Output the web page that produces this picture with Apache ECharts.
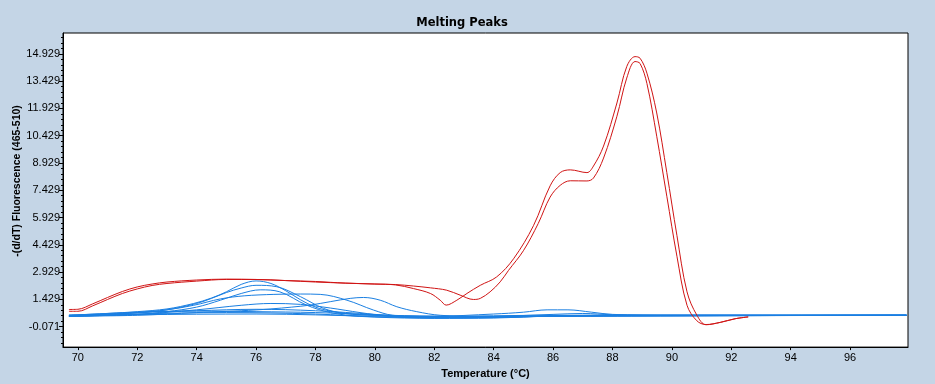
<!DOCTYPE html>
<html>
<head>
<meta charset="utf-8">
<script src="https://cdn.jsdelivr.net/npm/echarts@6/dist/echarts.min.js"></script>
<style>
html,body{margin:0;padding:0;background:#C4D5E6;}
#chart{width:935px;height:384px;}
</style>
</head>
<body>
<div id="chart"></div>
<script>
// ---- data (temperature °C, -(d/dT) fluorescence) ----
const xTicks = [70,72,74,76,78,80,82,84,86,88,90,92,94,96];
const yTicks = [-0.071,1.429,2.929,4.429,5.929,7.429,8.929,10.429,11.929,13.429,14.929];

const red1 = [[69.7,0.87],[70.0,0.88],[70.5,1.18],[71.0,1.53],[71.5,1.86],[72.0,2.11],[72.5,2.27],[73.0,2.38],[74.0,2.49],[75.0,2.54],[76.0,2.52],[77.0,2.46],[78.0,2.38],[79.0,2.32],[80.0,2.27],[80.7,2.22],[81.3,2.02],[81.87,1.75],[82.2,1.38],[82.4,1.11],[82.76,1.38],[83.1,1.75],[83.55,2.2],[84.1,2.66],[84.67,3.66],[85.34,5.48],[85.9,7.67],[86.24,8.4],[86.58,8.55],[87.14,8.4],[87.36,8.76],[87.7,9.86],[88.15,12.23],[88.48,14.23],[88.76,14.78],[88.93,14.69],[89.16,13.87],[89.49,11.68],[89.83,8.4],[90.17,4.94],[90.51,1.84],[90.84,0.56],[91.15,0.03],[91.63,0.16],[92.13,0.36],[92.57,0.46]];
const red2 = [[69.7,0.77],[70.0,0.77],[70.5,1.07],[71.0,1.42],[71.5,1.75],[72.0,2.0],[72.5,2.19],[73.0,2.3],[74.0,2.43],[75.0,2.52],[76.0,2.52],[77.0,2.46],[78.0,2.41],[79.0,2.32],[80.0,2.27],[80.7,2.24],[81.3,2.16],[81.87,2.06],[82.42,1.93],[82.87,1.66],[83.32,1.42],[83.55,1.48],[83.88,1.84],[84.22,2.39],[84.5,3.02],[85.0,4.1],[85.5,5.6],[85.9,7.05],[86.24,7.7],[86.58,7.95],[87.14,7.94],[87.36,8.1],[87.7,9.2],[88.15,11.5],[88.48,13.6],[88.76,14.51],[88.93,14.4],[89.16,13.3],[89.49,10.4],[89.83,7.1],[90.17,3.8],[90.51,1.1],[90.84,0.25],[91.15,0.04],[91.63,0.16],[92.13,0.36],[92.57,0.46]];

const blue1 = [[69.7,0.55],[71,0.65],[72,0.75],[73,0.9],[73.9,1.2],[74.5,1.5],[75,1.84],[75.5,2.25],[76,2.44],[76.5,2.3],[77,1.9],[77.5,1.4],[78,1.0],[78.5,0.78],[79,0.65],[80,0.55],[82,0.48],[84,0.45],[86,0.5],[88,0.55],[97.9,0.55]];
const blue2 = [[69.7,0.55],[71,0.6],[72,0.68],[73,0.85],[74,1.2],[74.5,1.48],[75,1.8],[75.5,2.05],[76,2.2],[76.7,2.12],[77.5,1.57],[78.27,0.93],[79,0.65],[80,0.55],[82,0.5],[86,0.55],[97.9,0.55]];
const blue3 = [[69.7,0.5],[72,0.6],[73,0.75],[74,1.0],[74.8,1.38],[75.5,1.75],[76.14,1.95],[76.8,1.84],[77.7,1.11],[78.5,0.7],[79.5,0.5],[82,0.42],[86,0.5],[97.9,0.55]];
const blue4 = [[69.7,0.55],[71,0.6],[72,0.7],[73,0.85],[73.9,1.1],[74.8,1.45],[75.6,1.62],[76.6,1.7],[77.5,1.72],[78.16,1.7],[79.06,1.38],[79.95,0.84],[80.6,0.55],[82,0.45],[86,0.5],[97.9,0.55]];
const blue5 = [[69.7,0.5],[72,0.55],[74,0.7],[75.5,0.8],[76.5,0.9],[77.2,1.0],[77.82,1.11],[78.5,1.3],[79.17,1.48],[79.62,1.53],[80.18,1.38],[80.74,1.02],[81.41,0.75],[82.2,0.55],[84,0.45],[86,0.5],[97.9,0.55]];
const blue6 = [[69.7,0.5],[72,0.6],[74,0.85],[75.5,1.1],[76.5,1.2],[77.5,1.15],[78.5,0.95],[79.5,0.7],[80.5,0.5],[82,0.42],[86,0.5],[97.9,0.55]];
const blue7 = [[69.7,0.5],[72,0.7],[74,0.8],[76,0.88],[78,0.8],[80,0.6],[82,0.4],[84,0.42],[86,0.5],[90,0.55],[97.9,0.55]];
const blue8 = [[69.7,0.55],[72,0.72],[74,0.78],[76,0.75],[78,0.7],[80,0.58],[82,0.5],[84,0.62],[85,0.72],[85.8,0.85],[86.5,0.85],[87.3,0.72],[88,0.6],[90,0.55],[97.9,0.55]];
const blue9 = [[69.7,0.48],[72,0.62],[75,0.7],[78,0.62],[80,0.45],[82,0.38],[84,0.4],[86,0.52],[88,0.55],[97.9,0.55]];
const blue10 = [[69.7,0.5],[72,0.58],[76,0.62],[80,0.5],[83,0.45],[86,0.6],[87,0.65],[88,0.58],[90,0.55],[97.9,0.55]];

const redSeries = [red1, red2];
const blueSeries = [blue1, blue2, blue3, blue4, blue5, blue6, blue7, blue8, blue9, blue10];

// minor tick positions on y (4 between majors)
const yMinor = [];
for (let k = -3; k <= 54; k++) {
  const v = +(-0.071 + 0.3 * k).toFixed(3);
  if (k % 5 !== 0 && v > -1.2 && v < 16.08) yMinor.push(v);
}

const chart = echarts.init(document.getElementById('chart'), null, {renderer: 'canvas'});
const series = [];
blueSeries.forEach(d => series.push({
  type: 'line', data: d, showSymbol: false, smooth: 0.35, animation: false,
  lineStyle: {color: '#1A7FE2', width: 1}, z: 2
}));
redSeries.forEach(d => series.push({
  type: 'line', data: d, showSymbol: false, smooth: 0.35, animation: false,
  lineStyle: {color: '#D01414', width: 1}, z: 3
}));

const labelFont = {color: '#000', fontFamily: 'Liberation Sans', fontSize: 11};

chart.setOption({
  backgroundColor: '#C4D5E6',
  animation: false,
  title: {
    text: 'Melting Peaks', left: 457, top: 12, textAlign: 'center',
    textStyle: {fontFamily: 'DejaVu Sans', fontWeight: 'bold', fontSize: 11.5, color: '#000'}
  },
  grid: {left: 63, top: 33, right: 27, bottom: 35, show: true, backgroundColor: '#fff', borderColor: '#000', borderWidth: 1},
  xAxis: {
    type: 'value', min: 69.5, max: 97.95,
    name: 'Temperature (°C)', nameLocation: 'middle', nameGap: 18,
    nameTextStyle: {fontFamily: 'Liberation Sans', fontWeight: 'bold', fontSize: 11, color: '#000'},
    axisLine: {show: true, onZero: false, lineStyle: {color: '#000'}},
    axisTick: {show: true, length: 3, lineStyle: {color: '#000'}, customValues: xTicks},
    axisLabel: Object.assign({margin: 5, customValues: xTicks, formatter: v => String(v)}, labelFont),
    splitLine: {show: false}
  },
  yAxis: [{
    type: 'value', min: -1.2, max: 16.08,
    axisLine: {show: true, onZero: false, lineStyle: {color: '#000'}},
    axisTick: {show: true, length: 4, lineStyle: {color: '#000'}, customValues: yTicks},
    axisLabel: Object.assign({margin: 3, customValues: yTicks, formatter: v => v.toFixed(3)}, labelFont),
    splitLine: {show: false}
  }, {
    type: 'value', min: -1.2, max: 16.08, position: 'left',
    axisLine: {show: false, onZero: false},
    axisTick: {show: true, length: 2, lineStyle: {color: '#000'}, customValues: yMinor},
    axisLabel: {show: false},
    splitLine: {show: false}
  }],
  graphic: [{
    type: 'text', x: 17, y: 181, rotation: Math.PI / 2,
    style: {text: '-(d/dT) Fluorescence (465-510)', fontFamily: 'Liberation Sans', fontWeight: 'bold', fontSize: 10.5, fill: '#000', align: 'center', verticalAlign: 'middle'}
  }],
  series: series
});
</script>
</body>
</html>
